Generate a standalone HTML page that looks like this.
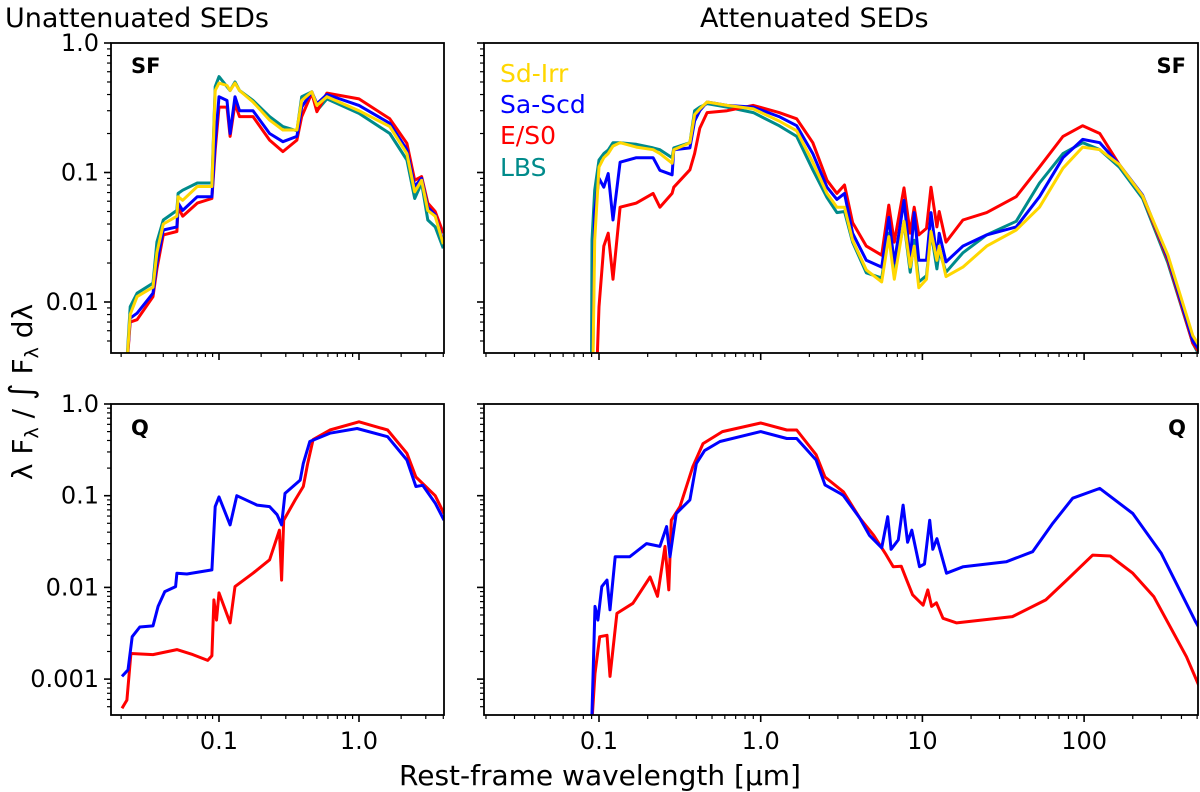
<!DOCTYPE html>
<html><head><meta charset="utf-8"><style>
html,body{margin:0;padding:0;background:#fff;}
svg{display:block;font-family:"DejaVu Sans","Liberation Sans",sans-serif;}
</style></head><body>
<svg id="chart" width="1200" height="792" viewBox="0 0 1200 792" xmlns="http://www.w3.org/2000/svg">
<text x="5" y="27" font-size="27">Unattenuated SEDs</text>
<text x="700" y="27" font-size="27">Attenuated SEDs</text>
<text transform="translate(32,392) rotate(-90)" text-anchor="middle" font-size="28">λ F<tspan font-size="19" dy="6">λ</tspan><tspan dy="-6"> / </tspan><tspan font-size="32">∫</tspan><tspan> F</tspan><tspan font-size="19" dy="6">λ</tspan><tspan dy="-6"> dλ</tspan></text>
<text x="600" y="785" text-anchor="middle" font-size="28">Rest-frame wavelength [μm]</text>
<g id="panels"></g>
<g font-size="25">
<text x="500" y="82" fill="#ffd700">Sd-Irr</text>
<text x="500" y="113" fill="#0000ff">Sa-Scd</text>
<text x="500" y="144" fill="#ff0000">E/S0</text>
<text x="500" y="176" fill="#008b8b">LBS</text>
</g>
<text x="131" y="73" font-size="21" font-weight="bold">SF</text>
<text x="1186" y="73" font-size="21" font-weight="bold" text-anchor="end">SF</text>
<text x="131" y="435" font-size="21" font-weight="bold">Q</text>
<text x="1186" y="435" font-size="21" font-weight="bold" text-anchor="end">Q</text>
</svg>
<script>
// ---- SF unattenuated (top-left) ----
const sfUnattWl = [0.0213,0.0232,0.026,0.0338,0.036,0.04,0.05,0.051,0.055,0.07,0.089,0.094,0.1,0.114,0.12,0.13,0.14,0.175,0.23,0.286,0.36,0.39,0.46,0.5,0.59,1.0,1.66,2.2,2.5,2.8,3.1,3.5,4.0];
const sfUnattLBS = [0.002,0.0092,0.0117,0.014,0.029,0.043,0.051,0.069,0.073,0.083,0.083,0.46,0.55,0.46,0.43,0.50,0.43,0.36,0.27,0.226,0.21,0.385,0.42,0.30,0.37,0.286,0.2,0.125,0.063,0.083,0.043,0.038,0.026];
const sfUnattE = [0.002,0.007,0.0073,0.011,0.018,0.033,0.035,0.054,0.046,0.058,0.063,0.149,0.32,0.32,0.19,0.34,0.27,0.27,0.178,0.145,0.178,0.27,0.41,0.295,0.41,0.37,0.26,0.168,0.087,0.093,0.058,0.05,0.034];
const sfUnattSa = [0.002,0.0075,0.0082,0.0117,0.020,0.036,0.038,0.058,0.051,0.065,0.065,0.168,0.385,0.36,0.2,0.385,0.30,0.30,0.2,0.173,0.19,0.32,0.42,0.34,0.40,0.33,0.24,0.15,0.078,0.09,0.054,0.047,0.029];
const sfUnattSd = [0.002,0.008,0.011,0.013,0.024,0.04,0.046,0.065,0.061,0.078,0.078,0.43,0.49,0.47,0.43,0.49,0.43,0.35,0.254,0.213,0.213,0.36,0.42,0.33,0.385,0.30,0.226,0.14,0.071,0.087,0.051,0.046,0.028];
// ---- SF attenuated (top-right) ----
const sfAttWl = [0.0895,0.0905,0.094,0.1,0.107,0.114,0.122,0.135,0.17,0.216,0.238,0.283,0.29,0.365,0.39,0.42,0.466,0.62,0.9,1.3,1.67,2.1,2.57,2.96,3.3,3.7,4.5,5.6,6.2,6.7,7.7,8.4,8.9,9.5,10.6,11.3,12.3,12.7,14,17.8,25,38,53,74,98,125,165,230,330,470,520];
const sfAttLBS = [0.001,0.03,0.073,0.125,0.14,0.149,0.17,0.17,0.165,0.155,0.15,0.13,0.155,0.17,0.30,0.32,0.34,0.32,0.29,0.23,0.19,0.105,0.064,0.049,0.05,0.029,0.0168,0.0153,0.034,0.017,0.041,0.017,0.03,0.0143,0.016,0.035,0.018,0.025,0.017,0.024,0.033,0.042,0.083,0.14,0.17,0.15,0.11,0.063,0.02,0.0048,0.0038];
const sfAttE = [0.001,0.001,0.001,0.0092,0.027,0.034,0.015,0.054,0.058,0.069,0.054,0.069,0.077,0.105,0.14,0.22,0.29,0.3,0.33,0.29,0.26,0.17,0.087,0.069,0.08,0.041,0.027,0.023,0.056,0.029,0.076,0.034,0.054,0.033,0.037,0.077,0.038,0.05,0.029,0.043,0.049,0.065,0.11,0.19,0.23,0.2,0.115,0.066,0.021,0.0048,0.004];
const sfAttSa = [0.001,0.001,0.05,0.09,0.077,0.098,0.043,0.12,0.13,0.13,0.104,0.096,0.15,0.155,0.25,0.30,0.35,0.33,0.32,0.27,0.23,0.14,0.077,0.062,0.069,0.034,0.021,0.0186,0.045,0.02,0.061,0.021,0.049,0.021,0.021,0.049,0.022,0.034,0.0204,0.027,0.033,0.038,0.065,0.13,0.18,0.17,0.115,0.067,0.022,0.005,0.0042];
const sfAttSd = [0.001,0.001,0.03,0.11,0.13,0.14,0.16,0.17,0.157,0.15,0.14,0.118,0.15,0.17,0.28,0.31,0.35,0.33,0.31,0.25,0.21,0.12,0.069,0.054,0.054,0.03,0.0177,0.0143,0.032,0.015,0.042,0.0186,0.027,0.0129,0.015,0.035,0.021,0.027,0.0157,0.0186,0.027,0.036,0.054,0.108,0.157,0.15,0.115,0.066,0.023,0.0055,0.0045];
// ---- Q unattenuated (bottom-left) ----
const qUnattBlueWl = [0.0203,0.0224,0.024,0.0272,0.0338,0.0367,0.041,0.049,0.05,0.059,0.089,0.094,0.1,0.12,0.134,0.187,0.23,0.26,0.28,0.296,0.38,0.4,0.445,0.62,0.97,1.6,2.2,2.55,2.85,3.5,4.05];
const qUnattBlue = [0.00107,0.00126,0.0029,0.0037,0.0038,0.0062,0.009,0.0102,0.0143,0.014,0.0155,0.076,0.097,0.048,0.1,0.079,0.076,0.062,0.048,0.106,0.148,0.225,0.39,0.48,0.54,0.44,0.245,0.126,0.13,0.083,0.054];
const qUnattRedWl = [0.0203,0.022,0.0235,0.0338,0.05,0.065,0.083,0.089,0.092,0.096,0.1,0.12,0.13,0.175,0.23,0.27,0.28,0.29,0.35,0.4,0.43,0.47,0.62,1.0,1.6,2.2,2.55,3.5,4.05];
const qUnattRed = [0.00048,0.00059,0.0019,0.00185,0.0021,0.00185,0.0016,0.0018,0.0073,0.0044,0.0087,0.0041,0.0102,0.0143,0.02,0.042,0.012,0.054,0.09,0.126,0.225,0.41,0.52,0.64,0.52,0.29,0.16,0.1,0.064];
// ---- Q attenuated (bottom-right) ----
const qAttBlueWl = [0.09,0.0945,0.0985,0.104,0.112,0.117,0.126,0.155,0.197,0.238,0.262,0.275,0.30,0.365,0.40,0.45,0.56,1.0,1.45,1.67,2.2,2.5,3.1,3.25,4.1,4.7,5.6,6.1,6.4,7.1,7.6,8.1,8.6,9.6,10.3,11.1,11.6,12.3,14.1,17.9,33,48,64,85,125,200,300,490,520];
const qAttBlue = [0.0003,0.0062,0.0044,0.0102,0.012,0.0057,0.0216,0.0216,0.030,0.028,0.046,0.0216,0.064,0.09,0.225,0.31,0.39,0.50,0.42,0.42,0.245,0.131,0.106,0.10,0.057,0.037,0.027,0.059,0.026,0.033,0.079,0.031,0.042,0.0168,0.018,0.054,0.026,0.034,0.0143,0.0168,0.019,0.0245,0.05,0.094,0.12,0.064,0.0235,0.0042,0.0035];
const qAttRedWl = [0.09,0.0945,0.101,0.112,0.117,0.129,0.162,0.207,0.23,0.256,0.27,0.28,0.317,0.38,0.44,0.58,1.0,1.45,1.67,2.2,2.5,3.25,4.1,5.0,5.9,6.6,7.4,8.0,8.7,10.1,10.8,11.4,12.2,13.4,16.3,36,58,78,113,145,200,270,430,520];
const qAttRed = [0.0003,0.00115,0.0029,0.003,0.00107,0.0052,0.0067,0.013,0.008,0.028,0.0094,0.054,0.076,0.207,0.37,0.50,0.62,0.52,0.52,0.28,0.16,0.11,0.057,0.037,0.0235,0.0168,0.017,0.012,0.0083,0.0064,0.0094,0.0062,0.0068,0.0046,0.0041,0.0048,0.0073,0.012,0.0225,0.022,0.0143,0.0079,0.00175,0.0008];
// tick labels
const yTicksTop = [1, 0.1, 0.01];
const yTicksTopLabels = ["1.0", "0.1", "0.01"];
const yTicksBot = [1, 0.1, 0.01, 0.001];
const yTicksBotLabels = ["1.0", "0.1", "0.01", "0.001"];
const xTicksLeft = [0.1, 1];
const xTicksLeftLabels = ["0.1", "1.0"];
const xTicksRight = [0.1, 1, 10, 100];
const xTicksRightLabels = ["0.1", "1.0", "10", "100"];

const NS = "http://www.w3.org/2000/svg";
const root = document.getElementById("panels");
const L = Math.log10;
const COL = {sd:"#ffd700", sa:"#0000ff", e:"#ff0000", lbs:"#008b8b"};

function mk(tag, attrs, parent){ const e=document.createElementNS(NS,tag); for(const k in attrs) e.setAttribute(k,attrs[k]); (parent||root).appendChild(e); return e; }

function panel(name, x0,x1,y0,y1, lmin,lmax, vmin,vmax, yT, yTL, xT, xTL, showY, showX){
  const g = mk("g",{});
  
  
  const P = {x0,x1,y0,y1,g,
    sx: w => x0 + (L(w)-L(lmin))/(L(lmax)-L(lmin))*(x1-x0),
    sy: v => y1 - (L(v)-L(vmin))/(L(vmax)-L(vmin))*(y1-y0)};
  const cid = "clip-"+name;
  const cp = mk("clipPath",{id:cid},g); mk("rect",{x:x0,y:y0,width:x1-x0,height:y1-y0},cp);
  P.clip = cid;
  for(let d=Math.floor(L(vmin)); d<=Math.ceil(L(vmax)); d++){
    for(let m=1;m<10;m++){
      const v=m*Math.pow(10,d); if(v<vmin*0.999||v>vmax*1.001) continue;
      const y=P.sy(v); const len = m===1?7:4;
      const t=mk("line",{x1:x0-len,x2:x0,y1:y,y2:y,stroke:"#000","stroke-width":m===1?1.6:1.2},g);
      
      
    }
  }
  if(showY) yT.forEach((v,i)=>{ const t=mk("text",{x:x0-12,y:P.sy(v)+8,"text-anchor":"end","font-size":24},g); t.textContent=yTL[i];
    
     });
  for(let d=Math.floor(L(lmin)); d<=Math.ceil(L(lmax)); d++){
    for(let m=1;m<10;m++){
      const w=m*Math.pow(10,d); if(w<lmin*0.999||w>lmax*1.001) continue;
      const x=P.sx(w); const len=m===1?7:4;
      const t=mk("line",{x1:x,x2:x,y1:y1,y2:y1+len,stroke:"#000","stroke-width":m===1?1.6:1.2},g);
      
      
    }
  }
  if(showX) xT.forEach((w,i)=>{ const t=mk("text",{x:P.sx(w),y:y1+34,"text-anchor":"middle","font-size":24},g); t.textContent=xTL[i];
    
     });
  return P;
}
function series(P, wl, vals, color, name){
  let d=""; wl.forEach((w,i)=>{ d += (i?"L":"M")+P.sx(w).toFixed(1)+","+P.sy(vals[i]).toFixed(1); });
  const p=mk("path",{d, fill:"none", stroke:color, "stroke-width":3, "stroke-linejoin":"round","clip-path":"url(#"+P.clip+")"},P.g);
  
  
}
function frame(P){
  const r=mk("rect",{x:P.x0,y:P.y0,width:P.x1-P.x0,height:P.y1-P.y0,fill:"none",stroke:"#000","stroke-width":1.8},P.g);
  
  
}
const topMin = Math.pow(10,-310/129.5), botMin = Math.pow(10,-311/91.7);
const leftMin = Math.pow(10,-1-108/140), leftMax = Math.pow(10,-1+225/140);
const rightMin = Math.pow(10,-1-115/161.7), rightMax = Math.pow(10,-1+599/161.7);

const TL = panel("panel-sf-unattenuated",111,444,43,353,leftMin,leftMax,topMin,1,yTicksTop,yTicksTopLabels,xTicksLeft,xTicksLeftLabels,true,false);
series(TL,sfUnattWl,sfUnattLBS,COL.lbs,"line-sf-unatt-lbs");
series(TL,sfUnattWl,sfUnattE,COL.e,"line-sf-unatt-e-s0");
series(TL,sfUnattWl,sfUnattSa,COL.sa,"line-sf-unatt-sa-scd");
series(TL,sfUnattWl,sfUnattSd,COL.sd,"line-sf-unatt-sd-irr");
frame(TL);
const TR = panel("panel-sf-attenuated",484,1198,43,353,rightMin,rightMax,topMin,1,yTicksTop,yTicksTopLabels,xTicksRight,xTicksRightLabels,false,false);
series(TR,sfAttWl,sfAttLBS,COL.lbs,"line-sf-att-lbs");
series(TR,sfAttWl,sfAttE,COL.e,"line-sf-att-e-s0");
series(TR,sfAttWl,sfAttSa,COL.sa,"line-sf-att-sa-scd");
series(TR,sfAttWl,sfAttSd,COL.sd,"line-sf-att-sd-irr");
frame(TR);
const BL = panel("panel-q-unattenuated",111,444,404,715,leftMin,leftMax,botMin,1,yTicksBot,yTicksBotLabels,xTicksLeft,xTicksLeftLabels,true,true);
series(BL,qUnattRedWl,qUnattRed,COL.e,"line-q-unatt-e-s0");
series(BL,qUnattBlueWl,qUnattBlue,COL.sa,"line-q-unatt-sa-scd");
frame(BL);
const BR = panel("panel-q-attenuated",484,1198,404,715,rightMin,rightMax,botMin,1,yTicksBot,yTicksBotLabels,xTicksRight,xTicksRightLabels,false,true);
series(BR,qAttRedWl,qAttRed,COL.e,"line-q-att-e-s0");
series(BR,qAttBlueWl,qAttBlue,COL.sa,"line-q-att-sa-scd");
frame(BR);
</script>
</body></html>
